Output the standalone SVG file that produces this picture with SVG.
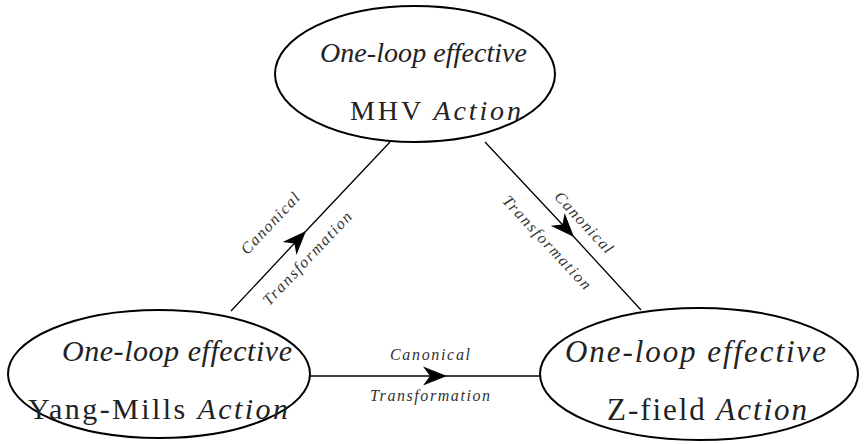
<svg xmlns="http://www.w3.org/2000/svg" width="865" height="444" viewBox="0 0 865 444">
<style>
.node{fill:#fff;stroke:#000;stroke-width:2}
.t{font-family:"Liberation Serif","DejaVu Serif",serif;fill:#222}
.i{font-style:italic}
.edge{fill:none;stroke:#000;stroke-width:1.3}
.lbl{font-family:"Liberation Serif","DejaVu Serif",serif;font-style:italic;font-size:16px;fill:#333;text-anchor:middle}
</style>
<defs>
<marker id="arr" markerUnits="userSpaceOnUse" markerWidth="30" markerHeight="30" viewBox="-27 -13 30 26" refX="0" refY="0" orient="auto">
<path d="M0,0 L-24,-9.5 L-17,0 L-24,9.5 Z" fill="#000"/>
</marker>
</defs>
<g id="connectors">
<path class="edge" d="M231,311 L306,231 L390,142" marker-mid="url(#arr)"/>
<path class="edge" d="M485,142 L574,237 L641,310" marker-mid="url(#arr)"/>
<path class="edge" d="M310,376 L447,376 L540,376" marker-mid="url(#arr)"/>
<text class="lbl" transform="translate(274,227) rotate(-46.7)" textLength="78" lengthAdjust="spacing">Canonical</text>
<text class="lbl" transform="translate(311,262) rotate(-46.7)" textLength="122" lengthAdjust="spacing">Transformation</text>
<text class="lbl" transform="translate(580,226) rotate(47)" textLength="78" lengthAdjust="spacing">Canonical</text>
<text class="lbl" transform="translate(543,246) rotate(47)" textLength="122" lengthAdjust="spacing">Transformation</text>
<text class="lbl" x="430" y="360" textLength="80" lengthAdjust="spacing">Canonical</text>
<text class="lbl" x="430" y="401" textLength="120" lengthAdjust="spacing">Transformation</text>
</g>
<g id="mhv">
<ellipse class="node" cx="415" cy="74" rx="140" ry="68"/>
<text class="t i" x="320" y="62" font-size="28" textLength="207" lengthAdjust="spacing">One-loop effective</text>
<text class="t" x="350" y="120" font-size="28" textLength="171" lengthAdjust="spacing">MHV <tspan class="i">Action</tspan></text>
</g>
<g id="ym">
<ellipse class="node" cx="159" cy="374" rx="151" ry="64"/>
<text class="t i" x="62" y="361" font-size="30" textLength="230" lengthAdjust="spacing">One-loop effective</text>
<text class="t" x="28" y="419" font-size="30" textLength="260" lengthAdjust="spacing">Yang-Mills <tspan class="i">Action</tspan></text>
</g>
<g id="zf">
<ellipse class="node" cx="699" cy="374" rx="159" ry="66"/>
<text class="t i" x="565" y="362" font-size="31" textLength="261" lengthAdjust="spacing">One-loop effective</text>
<text class="t" x="607" y="420" font-size="31" textLength="200" lengthAdjust="spacing">Z-field <tspan class="i">Action</tspan></text>
</g>
</svg>
